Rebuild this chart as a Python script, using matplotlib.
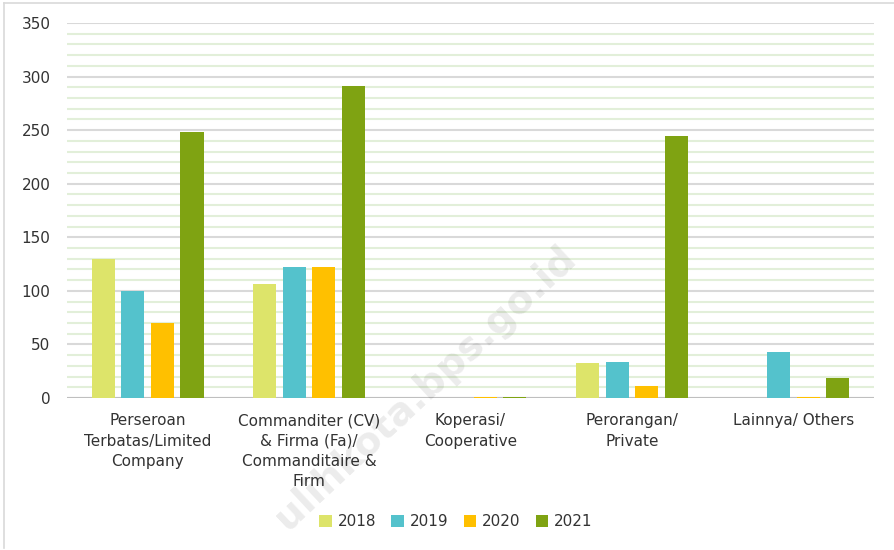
import matplotlib.pyplot as plt
import numpy as np
from matplotlib.ticker import MultipleLocator
from matplotlib.lines import Line2D

# data
categories = ['Perseroan\nTerbatas/Limited\nCompany',
              'Commanditer (CV)\n& Firma (Fa)/\nCommanditaire &\nFirm',
              'Koperasi/\nCooperative',
              'Perorangan/\nPrivate',
              'Lainnya/ Others']
years = ['2018', '2019', '2020', '2021']
v2018 = [130, 106, 0, 33, 0]
v2019 = [100, 122, 0, 34, 43]
v2020 = [70, 122, 1, 11, 1]
v2021 = [248, 291, 1, 245, 19]
colors = ['#DDE46A', '#54C2CC', '#FFC000', '#7FA312']

series = [v2018, v2019, v2020, v2021]

W, H = 895, 550
fig = plt.figure(figsize=(W / 100, H / 100), dpi=100)
ax = fig.add_axes([67 / W, 1 - 398 / H, (874 - 67) / W, (398 - 23) / H])

x = np.arange(len(categories))
step = 0.183
width = 0.143
for j, (vals, col, yr) in enumerate(zip(series, colors, years)):
    ax.bar(x + (j - 1.5) * step, vals, width=width, color=col, label=yr, zorder=5)

ax.set_xlim(-0.5, len(categories) - 0.5)
ax.set_ylim(0, 350)
ax.yaxis.set_major_locator(MultipleLocator(50))
ax.yaxis.set_minor_locator(MultipleLocator(10))
ax.grid(which='minor', axis='y', color='#E2EFD9', linewidth=1.5, zorder=0)
ax.grid(which='major', axis='y', color='#D9D9D9', linewidth=1.5, zorder=1)
ax.axhline(0, color='#BFBFBF', linewidth=1.5, zorder=2)
ax.set_axisbelow(True)

for s in ax.spines.values():
    s.set_visible(False)
ax.tick_params(axis='both', which='both', length=0, labelsize=11, colors='#333333')
ax.tick_params(axis='y', pad=12)
ax.tick_params(axis='x', pad=11)
ax.set_xticks(x)
ax.set_xticklabels(categories, linespacing=1.45)

leg = fig.legend(loc='center', bbox_to_anchor=(456 / W, 1 - 522 / H), ncol=4,
                 frameon=False, fontsize=11, handlelength=0.8, handleheight=0.8,
                 handletextpad=0.4, columnspacing=1.0)
for t in leg.get_texts():
    t.set_color('#333333')

# chart area border (top and left visible)
fig.add_artist(Line2D([4 / W, 1], [1 - 3 / H, 1 - 3 / H], transform=fig.transFigure,
                      color='#D9D9D9', linewidth=1.2))
fig.add_artist(Line2D([4 / W, 4 / W], [1 - 3 / H, 1 - 548 / H], transform=fig.transFigure,
                      color='#D9D9D9', linewidth=1.2))

# faint watermark
fig.text(425 / W, 1 - 388 / H, 'ulihkota.bps.go.id', rotation=43, fontsize=28,
         fontweight='bold', color='#000000', alpha=0.08, ha='center', va='center', zorder=10)

fig.savefig('out.png', dpi=100)
